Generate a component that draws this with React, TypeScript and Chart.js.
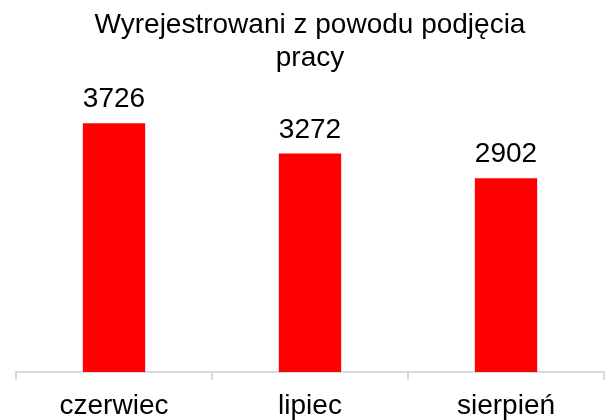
import React, { useEffect, useRef } from "react";
import { Chart, registerables } from "chart.js";

Chart.register(...registerables);

const categories = ["czerwiec", "lipiec", "sierpień"];
const values = [3726, 3272, 2902];
const titleLines = ["Wyrejestrowani z powodu podjęcia", "pracy"];

const FONT = "'Liberation Sans', Arial, sans-serif";

export default function App() {
  const ref = useRef<HTMLCanvasElement | null>(null);
  useEffect(() => {
    if (!ref.current) return;
    const titlePlugin = {
      id: "customTitle",
      afterDraw(chart: any) {
        const ctx = chart.ctx;
        ctx.save();
        ctx.fillStyle = "#000";
        ctx.font = `28px ${FONT}`;
        ctx.textAlign = "center";
        ctx.textBaseline = "alphabetic";
        ctx.fillText(titleLines[0], 310, 33);
        ctx.fillText(titleLines[1], 310, 66);
        ctx.restore();
      },
    };
    const labelPlugin = {
      id: "valueLabels",
      afterDatasetsDraw(chart: any) {
        const ctx = chart.ctx;
        const meta = chart.getDatasetMeta(0);
        ctx.save();
        ctx.fillStyle = "#000";
        ctx.font = `28px ${FONT}`;
        ctx.textAlign = "center";
        ctx.textBaseline = "alphabetic";
        meta.data.forEach((bar: any, i: number) => {
          ctx.fillText(String(values[i]), bar.x, bar.y - 16);
        });
        ctx.restore();
      },
    };
    const chart = new Chart(ref.current, {
      type: "bar",
      data: {
        labels: categories,
        datasets: [
          {
            data: values,
            backgroundColor: "#ff0000",
            barPercentage: 0.318,
            categoryPercentage: 1,
          },
        ],
      },
      options: {
        animation: false,
        responsive: false,
        layout: { padding: { left: 16, right: 4, top: 105, bottom: 0 } },
        plugins: { legend: { display: false }, tooltip: { enabled: false }, title: { display: false } },
        scales: {
          x: {
            offset: true,
            afterFit(scale: any) {
              scale.height = 48;
            },
            grid: {
              offset: true,
              drawOnChartArea: false,
              drawTicks: true,
              tickLength: 8,
              color: "#d9d9d9",
              lineWidth: 2,
            },
            border: { color: "#d9d9d9", width: 2 },
            ticks: { color: "#000", font: { family: FONT, size: 28 }, padding: 9 },
          },
          y: { display: false, min: 0, max: 4000 },
        },
      },
      plugins: [titlePlugin, labelPlugin],
    });
    return () => chart.destroy();
  }, []);
  return (
    <div style={{ position: "fixed", left: 0, top: 0, width: 608, height: 420, background: "#fff" }}>
      <canvas ref={ref} width={608} height={420} />
    </div>
  );
}
